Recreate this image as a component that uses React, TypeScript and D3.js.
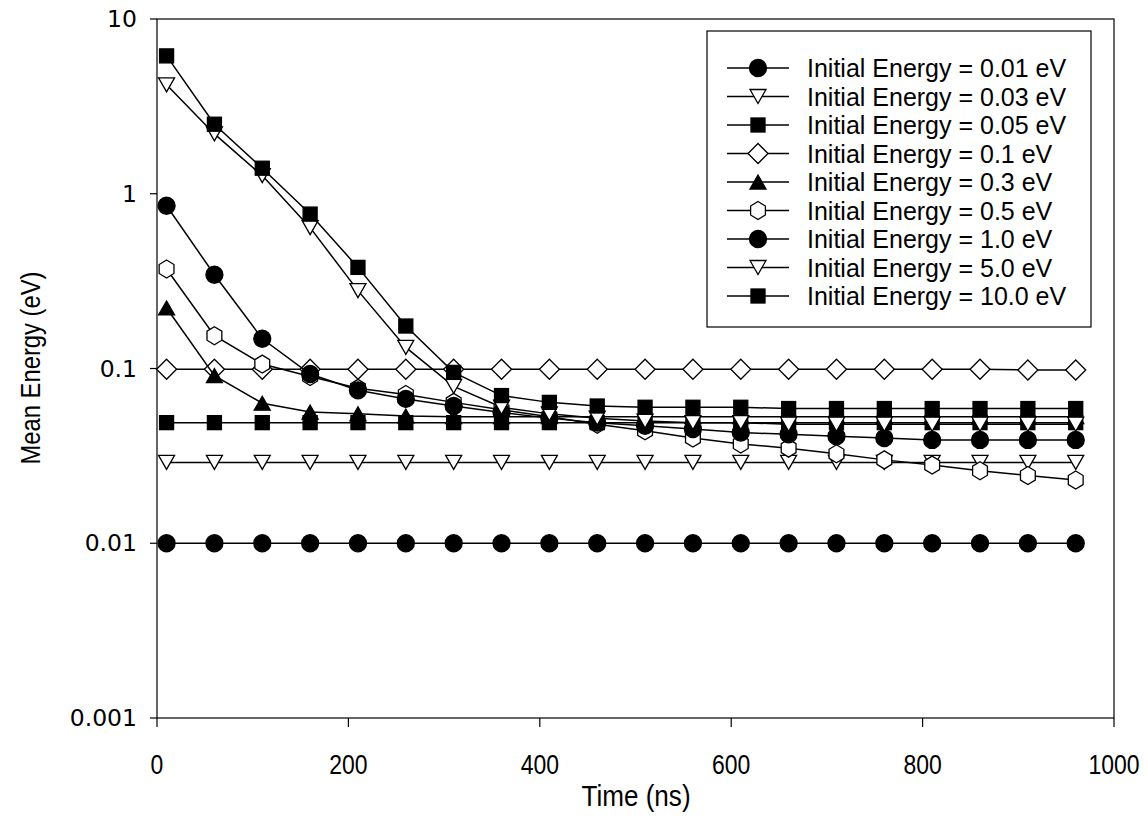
import React from "react";
import * as d3 from "d3";

const times = [10, 60, 110, 160, 210, 260, 310, 360, 410, 460, 510, 560, 610, 660, 710, 760, 810, 860, 910, 960];

const e001 = [0.01, 0.01, 0.01, 0.01, 0.01, 0.01, 0.01, 0.01, 0.01, 0.01, 0.01, 0.01, 0.01, 0.01, 0.01, 0.01, 0.01, 0.01, 0.01, 0.01];
const e003 = [0.029, 0.029, 0.029, 0.029, 0.029, 0.029, 0.029, 0.029, 0.029, 0.029, 0.029, 0.029, 0.029, 0.029, 0.029, 0.029, 0.029, 0.029, 0.029, 0.029];
const e005 = [0.049, 0.049, 0.049, 0.049, 0.049, 0.049, 0.049, 0.049, 0.049, 0.049, 0.049, 0.049, 0.049, 0.049, 0.049, 0.049, 0.049, 0.049, 0.049, 0.049];
const e01 = [0.099, 0.099, 0.099, 0.099, 0.099, 0.099, 0.099, 0.099, 0.099, 0.099, 0.099, 0.099, 0.099, 0.099, 0.099, 0.099, 0.099, 0.099, 0.098, 0.098];
const e03 = [0.222, 0.091, 0.0633, 0.0563, 0.055, 0.0535, 0.053, 0.053, 0.053, 0.053, 0.053, 0.053, 0.053, 0.053, 0.053, 0.053, 0.053, 0.053, 0.053, 0.053];
const e05 = [0.371, 0.154, 0.106, 0.09, 0.077, 0.071, 0.064, 0.058, 0.053, 0.048, 0.044, 0.04, 0.037, 0.035, 0.0325, 0.03, 0.028, 0.026, 0.0244, 0.023];
const e1 = [0.854, 0.344, 0.148, 0.093, 0.075, 0.067, 0.061, 0.056, 0.052, 0.049, 0.047, 0.045, 0.043, 0.042, 0.041, 0.04, 0.039, 0.039, 0.039, 0.039];
const e5 = [4.2, 2.2, 1.27, 0.64, 0.279, 0.132, 0.079, 0.06, 0.055, 0.052, 0.05, 0.049, 0.049, 0.048, 0.048, 0.048, 0.048, 0.048, 0.048, 0.048];
const e10 = [6.15, 2.5, 1.4, 0.765, 0.379, 0.175, 0.095, 0.07, 0.064, 0.061, 0.06, 0.06, 0.06, 0.059, 0.059, 0.059, 0.059, 0.059, 0.059, 0.059];

const labels = [
  "Initial Energy = 0.01 eV",
  "Initial Energy = 0.03 eV",
  "Initial Energy = 0.05 eV",
  "Initial Energy = 0.1 eV",
  "Initial Energy = 0.3 eV",
  "Initial Energy = 0.5 eV",
  "Initial Energy = 1.0 eV",
  "Initial Energy = 5.0 eV",
  "Initial Energy = 10.0 eV",
];
const markerTypes = ["circle", "triDown", "square", "diamond", "triUp", "hexagon", "circle", "triDown", "square"];
const seriesValues = [e001, e003, e005, e01, e03, e05, e1, e5, e10];

const xTicks = [0, 200, 400, 600, 800, 1000];
const yTicks = [0.001, 0.01, 0.1, 1, 10];
const yTickLabels = ["0.001", "0.01", "0.1", "1", "10"];

function Marker({ type, x, y }: { type: string; x: number; y: number }) {
  const sw = 1.3;
  if (type === "circle") return <circle cx={x} cy={y} r={8.5} fill="#000" stroke="#000" strokeWidth={sw} />;
  if (type === "square") return <rect x={x - 7} y={y - 7} width={14} height={14} fill="#000" stroke="#000" strokeWidth={sw} />;
  if (type === "triDown") {
    const w = 8, h = 7;
    return <path d={`M${x - w},${y - h}L${x + w},${y - h}L${x},${y + h}Z`} fill="#fff" stroke="#000" strokeWidth={sw} />;
  }
  if (type === "triUp") {
    const w = 8, h = 7;
    return <path d={`M${x - w},${y + h}L${x + w},${y + h}L${x},${y - h}Z`} fill="#000" stroke="#000" strokeWidth={sw} />;
  }
  if (type === "diamond") {
    const r = 10;
    return <path d={`M${x},${y - r}L${x + r},${y}L${x},${y + r}L${x - r},${y}Z`} fill="#fff" stroke="#000" strokeWidth={sw} />;
  }
  if (type === "hexagon") {
    const r = 9;
    const pts = d3.range(6).map((i) => {
      const a = (Math.PI / 3) * i - Math.PI / 2;
      return [x + r * Math.cos(a) * 0.95, y + r * Math.sin(a)];
    });
    return <path d={"M" + pts.map((p) => p.join(",")).join("L") + "Z"} fill="#fff" stroke="#000" strokeWidth={sw} />;
  }
  return null;
}

export default function App() {
  const W = 1148, H = 839;
  const x = d3.scaleLinear().domain([0, 1000]).range([157, 1114]);
  const y = d3.scaleLog().domain([0.001, 10]).range([718, 19]);
  const line = d3
    .line<[number, number]>()
    .x((d) => x(d[0]))
    .y((d) => y(d[1]));

  const legX = 707, legY = 31, legW = 384, legH = 296;
  const rowY0 = 68, rowDy = 28.5;

  return (
    <svg width={W} height={H} style={{ position: "absolute", left: 0, top: 0, background: "#fff" }}>
      <rect x={0} y={0} width={W} height={H} fill="#fff" />
      {/* frame */}
      <rect x={x(0)} y={y(10)} width={x(1000) - x(0)} height={y(0.001) - y(10)} fill="none" stroke="#000" strokeWidth={1.2} />
      {/* y ticks */}
      {yTicks.map((t, i) => (
        <g key={"yt" + i}>
          <line x1={x(0) - 7} x2={x(0)} y1={y(t)} y2={y(t)} stroke="#000" strokeWidth={1.2} />
          <text x={137} y={y(t)} textAnchor="end" dominantBaseline="central" fontFamily="DejaVu Sans, sans-serif" fontSize={23.5} fill="#000">
            {yTickLabels[i]}
          </text>
        </g>
      ))}
      {/* x ticks */}
      {xTicks.map((t, i) => (
        <g key={"xt" + i}>
          <line x1={x(t)} x2={x(t)} y1={y(0.001)} y2={y(0.001) + 9} stroke="#000" strokeWidth={1.2} />
          <text
            transform={`translate(${x(t)},${774}) scale(0.82,1)`}
            textAnchor="middle"
            fontFamily="Liberation Sans, Arial, sans-serif"
            fontSize={28}
            fill="#000"
          >
            {String(t)}
          </text>
        </g>
      ))}
      {/* axis titles */}
      <text
        transform={`translate(${636},${806}) scale(0.9,1)`}
        textAnchor="middle"
        fontFamily="Liberation Sans, Arial, sans-serif"
        fontSize={29}
        fill="#000"
      >
        Time (ns)
      </text>
      <text
        transform={`translate(${40},${368}) rotate(-90) scale(0.85,1)`}
        textAnchor="middle"
        fontFamily="Liberation Sans, Arial, sans-serif"
        fontSize={28}
        fill="#000"
      >
        Mean Energy (eV)
      </text>
      {/* series */}
      {seriesValues.map((vals, si) => {
        const pts = times.map((t, i) => [t, vals[i]] as [number, number]);
        return (
          <g key={"s" + si}>
            <path d={line(pts) || ""} fill="none" stroke="#000" strokeWidth={1.5} />
            {pts.map((p, i) => (
              <Marker key={i} type={markerTypes[si]} x={x(p[0])} y={y(p[1])} />
            ))}
          </g>
        );
      })}
      {/* legend */}
      <rect x={legX} y={legY} width={legW} height={legH} fill="#fff" stroke="#000" strokeWidth={1.2} />
      {labels.map((lab, i) => {
        const ry = rowY0 + i * rowDy;
        return (
          <g key={"l" + i}>
            <line x1={727} x2={789} y1={ry} y2={ry} stroke="#000" strokeWidth={1.5} />
            <Marker type={markerTypes[i]} x={758} y={ry} />
            <text x={807} y={ry} dominantBaseline="central" fontFamily="Liberation Sans, Arial, sans-serif" fontSize={25} fill="#000">
              {lab}
            </text>
          </g>
        );
      })}
    </svg>
  );
}
